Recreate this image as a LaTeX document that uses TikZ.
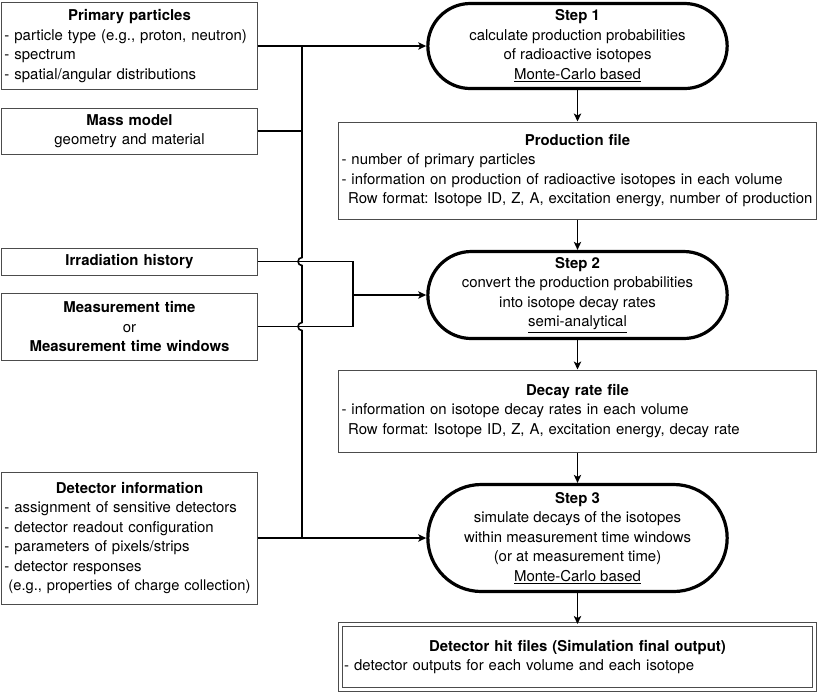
\documentclass[tikz,border=0pt]{standalone}
\usepackage{fontspec}
\setmainfont{TeX Gyre Heros}
\usetikzlibrary{arrows.meta,shapes.misc,calc}

\tikzset{
  leftbox/.style={draw=black!70, line width=0.75pt, rectangle, align=left,
    text width=187.5pt, inner xsep=1.9pt, inner ysep=1pt},
  filebox/.style={draw=black!70, line width=0.75pt, rectangle, align=left,
    text width=354pt, inner xsep=2pt, inner ysep=1pt},
  hitbox/.style={draw=black!70, line width=0.75pt, double, double distance=2.25pt,
    rectangle, align=left, text width=350pt, inner xsep=3pt, inner ysep=1pt},
  stepbox/.style={draw, line width=2.4pt, rounded rectangle, align=center,
    minimum width=226.5pt, inner sep=1pt},
  conn/.style={line width=1.2pt},
  arr/.style={conn, -{Stealth[length=6pt, width=5.5pt, inset=1.5pt]}},
}
\newcommand{\boxhead}[1]{{\centering\textbf{#1}\par}}

\begin{document}
\begin{tikzpicture}[x=0.75pt, y=-0.75pt, font=\fontsize{11.2}{14.6}\selectfont\frenchspacing]
  \useasboundingbox (0,0) rectangle (817,694);

  % inputs on the left
  \node[leftbox, minimum height=65.25pt] (prim) at (129.5,46) {\boxhead{Primary particles}
    - particle type (e.g., proton, neutron)\\
    - spectrum\\
    - spatial/angular distributions};
  \node[leftbox, minimum height=34.5pt, align=center] (mass) at (129.5,131)
    {\textbf{Mass model}\\ geometry and material};
  \node[leftbox, minimum height=20.25pt, align=center] (irr) at (129.5,261.5)
    {\textbf{Irradiation history}};
  \node[leftbox, minimum height=50.25pt, align=center] (meas) at (129.5,326.5)
    {\textbf{Measurement time}\\ or\\ \textbf{Measurement time windows}};
  \node[leftbox, minimum height=99pt] (det) at (129.5,538) {\boxhead{Detector information}
    - assignment of sensitive detectors\\
    - detector readout configuration\\
    - parameters of pixels/strips\\
    - detector responses\\
    \mbox{\hspace*{3pt}\fontsize{11}{14.6}\selectfont(e.g., properties of charge collection)}};

  % steps and files
  \node[stepbox, minimum height=63.75pt] (step1) at (577.5,46)
    {\textbf{Step 1}\\ calculate production probabilities\\ of radioactive isotopes\\ \underline{Monte-Carlo based}};
  \node[filebox, minimum height=72.75pt] (prod) at (577.5,170.5) {\boxhead{Production file}
    - number of primary particles\\
    - information on production of radioactive isotopes in each volume\\
    \mbox{\hspace*{5pt}Row format: Isotope ID, Z, A, excitation energy, number of production}};
  \node[stepbox, minimum height=65.25pt] (step2) at (577.5,295)
    {\textbf{Step 2}\\ convert the production probabilities\\ into isotope decay rates\\ \underline{semi-analytical}};
  \node[filebox, minimum height=61.5pt] (decay) at (577.5,411) {\boxhead{Decay rate file}
    - information on isotope decay rates in each volume\\
    \hspace*{5pt}Row format: Isotope ID, Z, A, excitation energy, decay rate};
  \node[stepbox, minimum height=80.25pt] (step3) at (577.5,538)
    {\textbf{Step 3}\\ simulate decays of the isotopes\\ within measurement time windows\\ (or at measurement time)\\ \underline{Monte-Carlo based}};
  \node[hitbox, minimum height=48.75pt] (hit) at (577.5,657)
    {\boxhead{Detector hit files (Simulation final output)}
    - detector outputs for each volume and each isotope};

  \coordinate (bus) at (302,46);
  \coordinate (join) at (353,295);

  % collecting lines
  \draw[arr] (prim.east) -- (prim.east -| step1.west);
  \draw[conn] (mass.east) -- (mass.east -| bus);
  \draw[conn] (prim.east -| bus) -- ($(irr.east -| bus)+(0,-4)$)
    arc[start angle=90, end angle=270, radius=3pt]
    -- ($(meas.east -| bus)+(0,-4)$)
    arc[start angle=90, end angle=270, radius=3pt]
    -- (det.east -| bus);
  \draw[conn] (irr.east) -- (irr.east -| join) -- (meas.east -| join) -- (meas.east);
  \draw[arr] (join) -- (join -| step2.west);
  \draw[arr] (det.east) -- (det.east -| step3.west);

  % main flow
  \draw[arr] (step1.south) -- (prod.north);
  \draw[arr] (prod.south) -- (step2.north);
  \draw[arr] (step2.south) -- (decay.north);
  \draw[arr] (decay.south) -- (step3.north);
  \draw[arr] (step3.south) -- (hit.north);
\end{tikzpicture}
\end{document}
